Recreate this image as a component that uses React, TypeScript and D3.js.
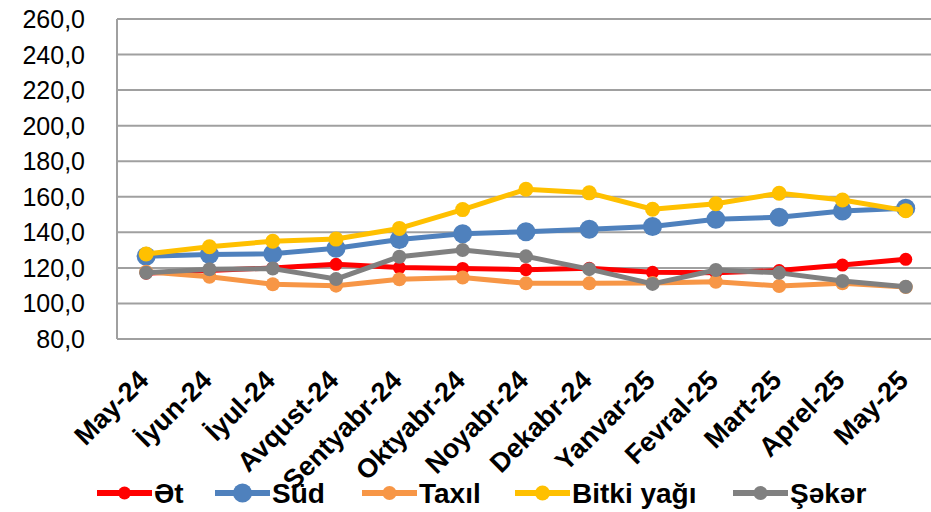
import React from "react";
import * as d3 from "d3";

const categories = ["May-24", "İyun-24", "İyul-24", "Avqust-24", "Sentyabr-24", "Oktyabr-24", "Noyabr-24", "Dekabr-24", "Yanvar-25", "Fevral-25", "Mart-25", "Aprel-25", "May-25"];
const et = [117.0, 118.5, 120.0, 122.0, 120.2, 119.7, 119.0, 119.8, 117.5, 117.3, 118.5, 121.6, 124.8];
const sud = [126.5, 127.5, 128.0, 131.0, 136.0, 139.2, 140.3, 141.7, 143.3, 147.3, 148.5, 152.0, 153.6];
const taxil = [117.8, 115.0, 110.8, 110.0, 113.6, 114.6, 111.3, 111.3, 111.5, 112.2, 109.8, 111.3, 109.2];
const bitki = [127.8, 131.9, 135.0, 136.2, 142.2, 152.8, 164.2, 162.2, 153.0, 156.1, 162.0, 158.2, 152.2];
const seker = [117.3, 119.2, 119.6, 113.7, 126.3, 130.0, 126.5, 119.3, 111.0, 118.8, 117.2, 112.6, 109.4];
const yTicks = [80, 100, 120, 140, 160, 180, 200, 220, 240, 260];

const series = [
  { name: "Ət", values: et, color: "#FF0000", r: 6.5 },
  { name: "Süd", values: sud, color: "#4F81BD", r: 9.5 },
  { name: "Taxıl", values: taxil, color: "#F79646", r: 7 },
  { name: "Bitki yağı", values: bitki, color: "#FFC000", r: 7.5 },
  { name: "Şəkər", values: seker, color: "#808080", r: 7 },
];

const W = 931;
const H = 512;
const left = 117;
const step = 63.3;
const top = 19;
const bottom = 339;

export default function App() {
  const x = d3
    .scalePoint<string>()
    .domain(categories)
    .range([left + step / 2 - 2.5, left + step / 2 - 2.5 + step * (categories.length - 1)]);
  const y = d3.scaleLinear().domain([80, 260]).range([bottom, top]);
  const line = (vals: number[]) =>
    d3
      .line<number>()
      .x((_, i) => x(categories[i]) as number)
      .y((v) => y(v))(vals) as string;

  const legendX = [97, 215, 362, 515, 733];
  const font = "'Liberation Sans', Arial, sans-serif";

  return (
    <svg width={W} height={H} style={{ position: "absolute", left: 0, top: 0 }} fontFamily={font}>
      <rect width={W} height={H} fill="#fff" />
      {yTicks.map((t) => (
        <g key={t}>
          <line x1={left} x2={W} y1={y(t)} y2={y(t)} stroke="#A0A0A0" strokeWidth={2} />
          <text x={85} y={y(t) + 9} textAnchor="end" fontSize={25} fill="#000">
            {d3.format(".1f")(t).replace(".", ",")}
          </text>
        </g>
      ))}
      <line x1={left} x2={left} y1={top} y2={bottom} stroke="#A0A0A0" strokeWidth={2} />
      {series.map((s) => (
        <g key={s.name}>
          <path d={line(s.values)} fill="none" stroke={s.color} strokeWidth={5} strokeLinejoin="round" />
          {s.values.map((v, i) => (
            <circle key={i} cx={x(categories[i])} cy={y(v)} r={s.r} fill={s.color} />
          ))}
        </g>
      ))}
      {categories.map((c) => (
        <text
          key={c}
          transform={`translate(${(x(c) as number) + 4},${382}) rotate(-45)`}
          textAnchor="end"
          fontSize={27}
          fontWeight="bold"
          fill="#000"
        >
          {c}
        </text>
      ))}
      {series.map((s, i) => (
        <g key={s.name}>
          <line x1={legendX[i]} x2={legendX[i] + 55} y1={493} y2={493} stroke={s.color} strokeWidth={6} />
          <circle cx={legendX[i] + 27.5} cy={493} r={s.r} fill={s.color} />
          <text x={legendX[i] + 57} y={503} fontSize={28} fontWeight="bold" fill="#000">
            {s.name}
          </text>
        </g>
      ))}
    </svg>
  );
}
